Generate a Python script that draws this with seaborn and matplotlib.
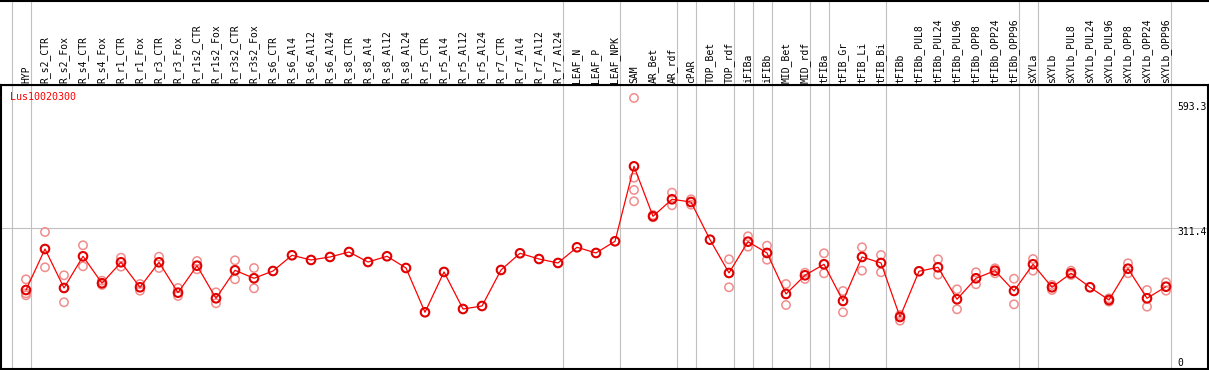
import numpy as np
import pandas as pd
import matplotlib
matplotlib.use("Agg")
import matplotlib.pyplot as plt
import matplotlib.transforms as mtransforms
import seaborn as sns

# ---------------- data ----------------
categories = ["HYP", "R_s2_CTR", "R_s2_Fox", "R_s4_CTR", "R_s4_Fox", "R_r1_CTR", "R_r1_Fox",
              "R_r3_CTR", "R_r3_Fox", "R_r1s2_CTR", "R_r1s2_Fox", "R_r3s2_CTR", "R_r3s2_Fox",
              "R_s6_CTR", "R_s6_Al4", "R_s6_Al12", "R_s6_Al24", "R_s8_CTR", "R_s8_Al4",
              "R_s8_Al12", "R_s8_Al24", "R_r5_CTR", "R_r5_Al4", "R_r5_Al12", "R_r5_Al24",
              "R_r7_CTR", "R_r7_Al4", "R_r7_Al12", "R_r7_Al24", "LEAF_N", "LEAF_P", "LEAF_NPK",
              "SAM", "AR_Bet", "AR_rdf", "cPAR", "TOP_Bet", "TOP_rdf", "iFIBa", "iFIBb",
              "MID_Bet", "MID_rdf", "tFIBa", "tFIB_Gr", "tFIB_Li", "tFIB_Bi", "tFIBb",
              "tFIBb_PUL8", "tFIBb_PUL24", "tFIBb_PUL96", "tFIBb_OPP8", "tFIBb_OPP24",
              "tFIBb_OPP96", "sXYLa", "sXYLb", "sXYLb_PUL8", "sXYLb_PUL24", "sXYLb_PUL96",
              "sXYLb_OPP8", "sXYLb_OPP24", "sXYLb_OPP96"]

mean_values = [176.9, 265.8, 181.3, 250.0, 191.5, 237.0, 182.8, 237.0, 171.1, 229.6,
               158.9, 219.6, 202.3, 218.1, 252.2, 242.0, 248.5, 259.3, 237.6, 250.0,
               224.6, 128.6, 216.0, 135.7, 142.2, 220.3, 256.5, 244.1, 235.5, 269.5,
               257.2, 282.5, 445.1, 336.7, 373.6, 367.7, 286.0, 213.8, 281.7, 257.2,
               168.3, 208.8, 232.7, 153.1, 248.5, 235.5, 118.4, 217.5, 226.1, 156.8,
               202.3, 218.8, 174.8, 232.7, 182.8, 213.1, 182.8, 155.2, 223.1, 158.9,
               184.1]

rep_labels = ["HYP", "HYP", "HYP", "R_s2_CTR", "R_s2_CTR", "R_s2_Fox", "R_s2_Fox",
              "R_s4_CTR", "R_s4_CTR", "R_s4_Fox", "R_s4_Fox", "R_r1_CTR", "R_r1_CTR",
              "R_r1_Fox", "R_r1_Fox", "R_r3_CTR", "R_r3_CTR", "R_r3_Fox", "R_r3_Fox",
              "R_r1s2_CTR", "R_r1s2_CTR", "R_r1s2_Fox", "R_r1s2_Fox", "R_r3s2_CTR",
              "R_r3s2_CTR", "R_r3s2_Fox", "R_r3s2_Fox",
              "SAM", "SAM", "SAM", "SAM", "AR_Bet", "AR_Bet", "AR_rdf", "AR_rdf",
              "cPAR", "cPAR", "TOP_rdf", "TOP_rdf", "iFIBa", "iFIBa", "iFIBb", "iFIBb",
              "MID_Bet", "MID_Bet", "MID_rdf", "MID_rdf", "tFIBa", "tFIBa",
              "tFIB_Gr", "tFIB_Gr", "tFIB_Li", "tFIB_Li", "tFIB_Bi", "tFIB_Bi",
              "tFIBb", "tFIBb", "tFIBb_PUL24", "tFIBb_PUL24", "tFIBb_PUL96", "tFIBb_PUL96",
              "tFIBb_OPP8", "tFIBb_OPP8", "tFIBb_OPP24", "tFIBb_OPP24",
              "tFIBb_OPP96", "tFIBb_OPP96", "sXYLa", "sXYLa", "sXYLb", "sXYLb",
              "sXYLb_PUL8", "sXYLb_PUL8", "sXYLb_PUL96", "sXYLb_PUL96",
              "sXYLb_OPP8", "sXYLb_OPP8", "sXYLb_OPP24", "sXYLb_OPP24",
              "sXYLb_OPP96", "sXYLb_OPP96"]

rep_values = [200.1, 169.8, 165.4, 302.7, 226.1, 208.8, 150.3,
              273.9, 228.3, 197.1, 187.8, 247.0, 227.5,
              189.9, 175.4, 249.1, 224.6, 181.3, 163.9,
              239.8, 221.8, 171.9, 148.1, 241.3,
              200.1, 224.6, 180.6,
              593.3, 420.4, 393.8, 369.3, 339.6, 334.6, 387.9, 360.6,
              373.6, 361.9, 243.5, 182.8, 293.4, 270.8, 273.0, 242.6,
              189.9, 144.4, 214.4, 200.8, 256.5, 213.1,
              174.8, 128.6, 269.5, 218.8, 252.8, 215.3,
              122.7, 110.4, 243.5, 210.1, 178.4, 135.1,
              215.3, 189.3, 224.0, 213.1,
              201.4, 145.9, 244.1, 218.8, 187.8, 176.9,
              218.8, 209.5, 158.9, 151.6,
              234.8, 213.1, 176.9, 140.7,
              193.6, 175.4]

group_sizes = [1, 28, 3, 3, 1, 2, 1, 1, 2, 1, 3, 7, 1, 7]
y_tick_values = [593.3, 311.4, 0]
y_tick_labels = ["593.3", "311.4", "0"]
gene_name = "Lus10020300"

# ---------------- figure ----------------
W, H = 1209, 370
fig = plt.figure(figsize=(W / 100, H / 100), dpi=100)
sns.set_style("white")
plt.rcParams["font.family"] = ["DejaVu Sans Mono"]

left = 0.5 / W
width = 1207 / W
ax = fig.add_axes([left, 1 / H, width, 284 / H])
axh = fig.add_axes([left, 285 / H, width, 84.3 / H])

px = 19.0
xl = (-(26 - 0.5) / px, (1207.5 - 26) / px)
ylim = (5.6, 621.4)

df_mean = pd.DataFrame({"cat": categories, "val": mean_values})
df_mean["pos"] = [categories.index(c) for c in df_mean["cat"]]
df_rep = pd.DataFrame({"cat": rep_labels, "val": rep_values})
df_rep["pos"] = [categories.index(c) for c in df_rep["cat"]]

grid_col = "#c0c0c0"
# group boundary lines
bounds = [-1] + list(np.cumsum(group_sizes) - 1)
for b in bounds:
    for a in (ax, axh):
        a.axvline(b + 4.5 / px, color=grid_col, lw=0.8, zorder=0)
ax.axhline(y_tick_values[1], color=grid_col, lw=0.8, zorder=0)

sns.scatterplot(data=df_rep, x="pos", y="val", ax=ax, marker="o", s=36,
                facecolors="none", edgecolor="#f08c8c", linewidth=1.1, zorder=2)
sns.lineplot(data=df_mean, x="pos", y="val", ax=ax, color="#ff0000", lw=0.9,
             sort=False, zorder=3)
sns.scatterplot(data=df_mean, x="pos", y="val", ax=ax, marker="o", s=38,
                facecolors="none", edgecolor="#e00000", linewidth=1.5, zorder=4)

ax.set_xlim(*xl)
ax.set_ylim(*ylim)
ax.set_xticks([])
ax.set_yticks([])
ax.set_xlabel("")
ax.set_ylabel("")
for s in ax.spines.values():
    s.set_visible(True)
    s.set_color("black")
    s.set_linewidth(1.5)

# right-side value labels
label_y_frac = [(369 - 107) / 284, (369 - 232) / 284, (369 - 362.5) / 284]
for lab, yf in zip(y_tick_labels, label_y_frac):
    ax.text((1177 - 0.5) / 1207, yf, lab, transform=ax.transAxes, ha="left",
            va="center", fontsize=7, color="black")

ax.text((10 - 0.5) / 1207, (369 - 97) / 284, gene_name, transform=ax.transAxes,
        ha="left", va="center", fontsize=7.2, color="#ff0000")

# header
axh.set_xlim(*xl)
axh.set_ylim(0, 1)
axh.set_xticks([])
axh.set_yticks([])
for k, s in axh.spines.items():
    s.set_color("black")
    s.set_linewidth(1.5)
    s.set_visible(k in ("top", "bottom"))
trans = mtransforms.blended_transform_factory(axh.transData, axh.transAxes)
for i, c in enumerate(categories):
    axh.text(i, 2 / 84.3, c, transform=trans, rotation=90, ha="center",
             va="bottom", fontsize=7, color="black")

fig.savefig("out.png", dpi=100)
